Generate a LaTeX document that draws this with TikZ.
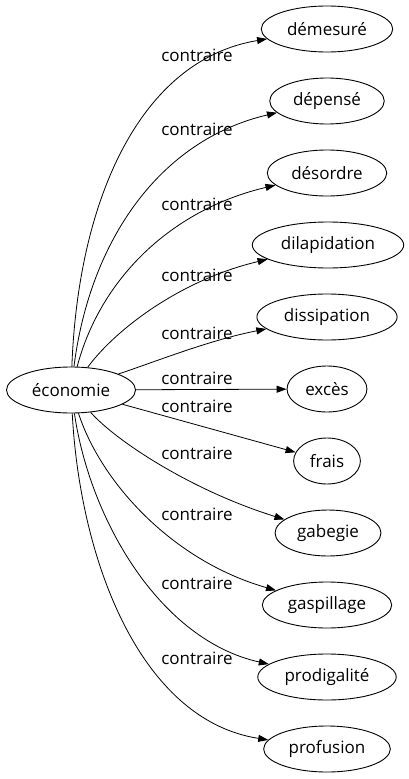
\documentclass[tikz,border=0pt]{standalone}
\usepackage{fontspec}
\setmainfont{Open Sans}
\usetikzlibrary{arrows.meta,shapes.geometric}

\begin{document}
\begin{tikzpicture}[
  x=1pt, y=-1pt,
  >={Triangle[length=10pt,width=7pt]},
  word/.style={ellipse, draw, line width=0.9pt, inner xsep=6.5pt, inner ysep=0pt,
    minimum height=46pt, font=\fontsize{17}{20}\selectfont},
  rel/.style={->, line width=0.8pt},
  tag/.style={font=\fontsize{17}{20}\selectfont, inner sep=0pt}
]
  \useasboundingbox (0,0) rectangle (409,779);

  \node[word] (eco) at (71,390) {économie};

  \node[word] (demesure) at (327,29) {démesuré};
  \node[word] (depense) at (327,101) {dépensé};
  \node[word] (desordre) at (327,173) {désordre};
  \node[word] (dilapidation) at (328,245) {dilapidation};
  \node[word] (dissipation) at (327,317) {dissipation};
  \node[word] (exces) at (327,389) {excès};
  \node[word] (frais) at (327,461) {frais};
  \node[word] (gabegie) at (328,533) {gabegie};
  \node[word] (gaspillage) at (327,605) {gaspillage};
  \node[word] (prodigalite) at (327,677) {prodigalité};
  \node[word] (profusion) at (327,749) {profusion};

  \draw[rel] (eco) .. controls (78,200) and (140,60) .. (demesure);
  \draw[rel] (eco) .. controls (90,240) and (160,140) .. (depense);
  \draw[rel] (eco) .. controls (100,280) and (170,210) .. (desordre);
  \draw[rel] (eco) .. controls (115,330) and (180,280) .. (dilapidation);
  \draw[rel] (eco) .. controls (160,360) and (210,340) .. (dissipation);
  \draw[rel] (eco) -- (exces);
  \draw[rel] (eco) -- (frais);
  \draw[rel] (eco) .. controls (115,440) and (190,490) .. (gabegie);
  \draw[rel] (eco) .. controls (100,480) and (170,560) .. (gaspillage);
  \draw[rel] (eco) .. controls (90,520) and (160,640) .. (prodigalite);
  \draw[rel] (eco) .. controls (80,560) and (140,720) .. (profusion);

  \node[tag] (c1) at (197,55) {contraire};
  \node[tag] (c2) at (197,129) {contraire};
  \node[tag] (c3) at (197,204) {contraire};
  \node[tag] (c4) at (197,275) {contraire};
  \node[tag] (c5) at (197,333) {contraire};
  \node[tag] (c6) at (197,378) {contraire};
  \node[tag] (c7) at (197,406) {contraire};
  \node[tag] (c8) at (197,453) {contraire};
  \node[tag] (c9) at (197,514) {contraire};
  \node[tag] (c10) at (197,583) {contraire};
  \node[tag] (c11) at (197,658) {contraire};
\end{tikzpicture}
\end{document}
